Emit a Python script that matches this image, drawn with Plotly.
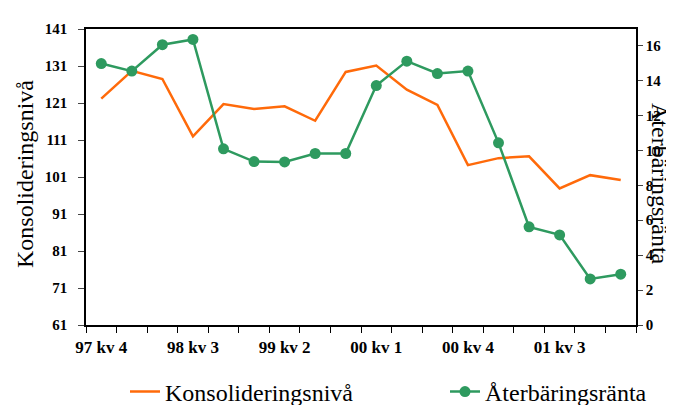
import plotly.graph_objects as go

# Quarters 97 kv 4 .. 02 kv 1
quarters = ["97 kv 4", "98 kv 1", "98 kv 2", "98 kv 3", "98 kv 4", "99 kv 1",
            "99 kv 2", "99 kv 3", "99 kv 4", "00 kv 1", "00 kv 2", "00 kv 3",
            "00 kv 4", "01 kv 1", "01 kv 2", "01 kv 3", "01 kv 4", "02 kv 1"]

konsolidering = [122.2, 129.7, 127.5, 112.0, 120.7, 119.4, 120.1, 116.2, 129.4,
                 131.1, 124.6, 120.5, 104.2, 106.1, 106.6, 97.9, 101.5, 100.2]

aterbaring = [14.97, 14.54, 16.05, 16.35, 10.09, 9.36, 9.34, 9.82, 9.82,
              13.71, 15.11, 14.40, 14.54, 10.43, 5.62, 5.16, 2.64, 2.91]

left_ticks = [61, 71, 81, 91, 101, 111, 121, 131, 141]
right_ticks = [0, 2, 4, 6, 8, 10, 12, 14, 16]

ORANGE = "#FF6A0A"
GREEN = "#2E9A5F"
SERIF = "Liberation Serif"

xs = list(range(len(quarters)))
shown = xs[::3]

fig = go.Figure()
fig.add_trace(go.Scatter(
    x=xs, y=konsolidering, name="Konsolideringsnivå", legend="legend",
    mode="lines", line=dict(color=ORANGE, width=2.5),
))
fig.add_trace(go.Scatter(
    x=xs, y=aterbaring, name="Återbäringsränta", yaxis="y2", legend="legend2",
    mode="lines+markers", line=dict(color=GREEN, width=2.5),
    marker=dict(color=GREEN, size=11),
))

tick_font = dict(size=15, family=SERIF, weight="bold", color="black")
legend_common = dict(orientation="h", xref="container", yref="container",
                     xanchor="left", y=1 - 384 / 405, yanchor="middle",
                     font=dict(size=24, family=SERIF, color="black"))

fig.update_layout(
    width=674, height=405,
    margin=dict(l=78, r=46, t=21, b=88, autoexpand=False),
    plot_bgcolor="white", paper_bgcolor="white",
    font=dict(family=SERIF, color="black"),
    showlegend=True,
    legend=dict(x=117 / 674, **legend_common),
    legend2=dict(x=437 / 674, **legend_common),
    xaxis=dict(
        range=[-0.5, len(quarters) - 0.5],
        tickvals=shown, ticktext=[quarters[i] for i in shown],
        ticks="", ticklabelstandoff=6,
        tickfont=dict(size=17, family=SERIF, weight="bold", color="black"),
        showline=True, linecolor="black", linewidth=1.5, mirror=True,
        showgrid=False, zeroline=False,
        minor=dict(ticks="outside", tick0=-0.5, dtick=1, ticklen=6,
                   tickcolor="black", showgrid=False),
    ),
    yaxis=dict(
        range=[61, 141], tickvals=left_ticks, ticks="outside", ticklen=6,
        tickfont=tick_font, ticklabelstandoff=8,
        showline=True, linecolor="black", linewidth=1.5,
        showgrid=False, zeroline=False,
    ),
    yaxis2=dict(
        overlaying="y", side="right", anchor="x",
        range=[0, 16.95], tickvals=right_ticks, ticks="outside", ticklen=5,
        tickfont=tick_font,
        showline=True, linecolor="black", linewidth=1.5,
        showgrid=False, zeroline=False,
    ),
    annotations=[
        dict(text="Konsolideringsnivå", xref="paper", yref="paper",
             x=(17 - 78) / 550, y=(317 - 166) / 296, textangle=-90,
             showarrow=False, xanchor="center", yanchor="middle",
             font=dict(size=24, family=SERIF, color="black")),
        dict(text="Återbäringsränta", xref="paper", yref="paper",
             x=(652 - 78) / 550, y=(317 - 176) / 296, textangle=90,
             showarrow=False, xanchor="center", yanchor="middle",
             font=dict(size=24, family=SERIF, color="black")),
    ],
)

fig.write_html("out.html")
